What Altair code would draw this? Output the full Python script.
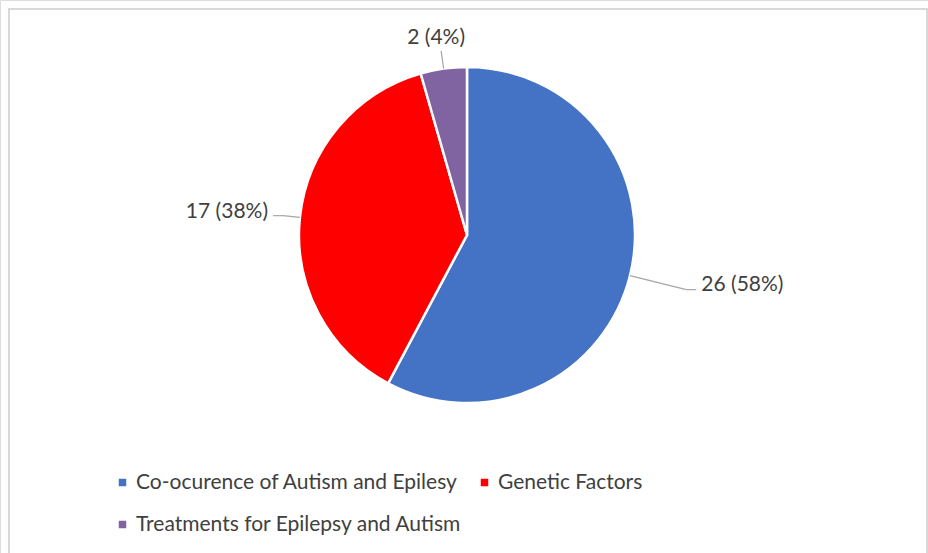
import altair as alt
import pandas as pd

# ---- data ----
categories = ["Co-ocurence of Autism and Epilesy", "Genetic Factors", "Treatments for Epilepsy and Autism"]
counts = [26, 17, 2]
colors = ["#4472C4", "#FF0000", "#8064A2"]

# ---- layout / style ----
W, H = 928, 553
CX, CY, R = 467, 235, 168
FONT = "Lato"
TXT = "#404040"
# radial length of leader line beyond the pie edge, per slice (style)
LEADER_EXT = {categories[0]: 58, categories[1]: 17, categories[2]: 18}

df = pd.DataFrame({"cat": categories, "count": counts, "idx": list(range(len(categories)))})
df["ext"] = df["cat"].map(LEADER_EXT)

base = alt.Chart(df).transform_joinaggregate(
    total="sum(count)"
).transform_window(
    cum="sum(count)", sort=[alt.SortField("idx")], frame=[None, 0]
).transform_calculate(
    mid="2*PI*(datum.cum - datum.count/2)/datum.total",
    label="datum.count + ' (' + round(100*datum.count/datum.total) + '%)'",
).transform_calculate(
    sx="sin(datum.mid)", sy="cos(datum.mid)",
).transform_calculate(
    ex=f"{CX} + {R}*datum.sx",
    ey=f"{CY} - {R}*datum.sy",
    bx=f"{CX} + ({R}+datum.ext)*datum.sx",
    by=f"{CY} - ({R}+datum.ext)*datum.sy",
).transform_calculate(
    side="datum.sx > 0.3 ? 1 : (datum.sx < -0.3 ? -1 : 0)",
).transform_calculate(
    hx="datum.bx + datum.side*10",
)

arc = base.mark_arc(radius=R, stroke="white", strokeWidth=2.5).encode(
    theta=alt.Theta("count:Q", stack=True),
    order=alt.Order("idx:Q"),
    color=alt.Color(
        "cat:N",
        scale=alt.Scale(domain=categories, range=colors),
        sort=categories,
        legend=alt.Legend(
            orient="none", legendX=112, legendY=472, direction="horizontal",
            columns=2, gridAlign="none", title=None,
            symbolType="square", symbolSize=56, symbolStrokeWidth=0,
            labelFont=FONT, labelFontSize=21, labelColor=TXT, labelOffset=3,
            columnPadding=12, rowPadding=20, padding=0, labelLimit=500,
        ),
    ),
    x=alt.value(CX), y=alt.value(CY),
)

lead1 = base.mark_rule(color="#A6A6A6", strokeWidth=1.2).encode(
    x=alt.X("ex:Q", scale=None), y=alt.Y("ey:Q", scale=None),
    x2="bx:Q", y2="by:Q",
)
lead2 = base.mark_rule(color="#A6A6A6", strokeWidth=1.2).encode(
    x=alt.X("bx:Q", scale=None), y=alt.Y("by:Q", scale=None),
    x2="hx:Q", y2="by:Q",
)

def lbl(filt, align, dx, dy, baseline):
    return base.transform_filter(filt).mark_text(
        font=FONT, fontSize=21, color=TXT, align=align, baseline=baseline, dx=dx, dy=dy,
    ).encode(
        x=alt.X("hx:Q", scale=None), y=alt.Y("by:Q", scale=None), text="label:N",
    )

t_right = lbl("datum.side == 1", "left", 5, -5, "middle")
t_left = lbl("datum.side == -1", "right", -5, -4, "middle")
t_top = lbl("datum.side == 0", "center", -5, -3, "bottom")

border = alt.Chart(pd.DataFrame({"a": [0]})).mark_rect(
    fill="transparent", stroke="#D9D9D9", strokeWidth=2
).encode(x=alt.value(9), x2=alt.value(927), y=alt.value(9), y2=alt.value(620))

chart = alt.layer(border, arc, lead1, lead2, t_right, t_left, t_top).properties(
    width=W, height=H,
    padding=0,
    autosize=alt.AutoSizeParams(type="none"),
).configure_view(stroke="transparent").configure(background="white")

chart.save("out.html", embed_options={"renderer": "svg", "actions": False})
